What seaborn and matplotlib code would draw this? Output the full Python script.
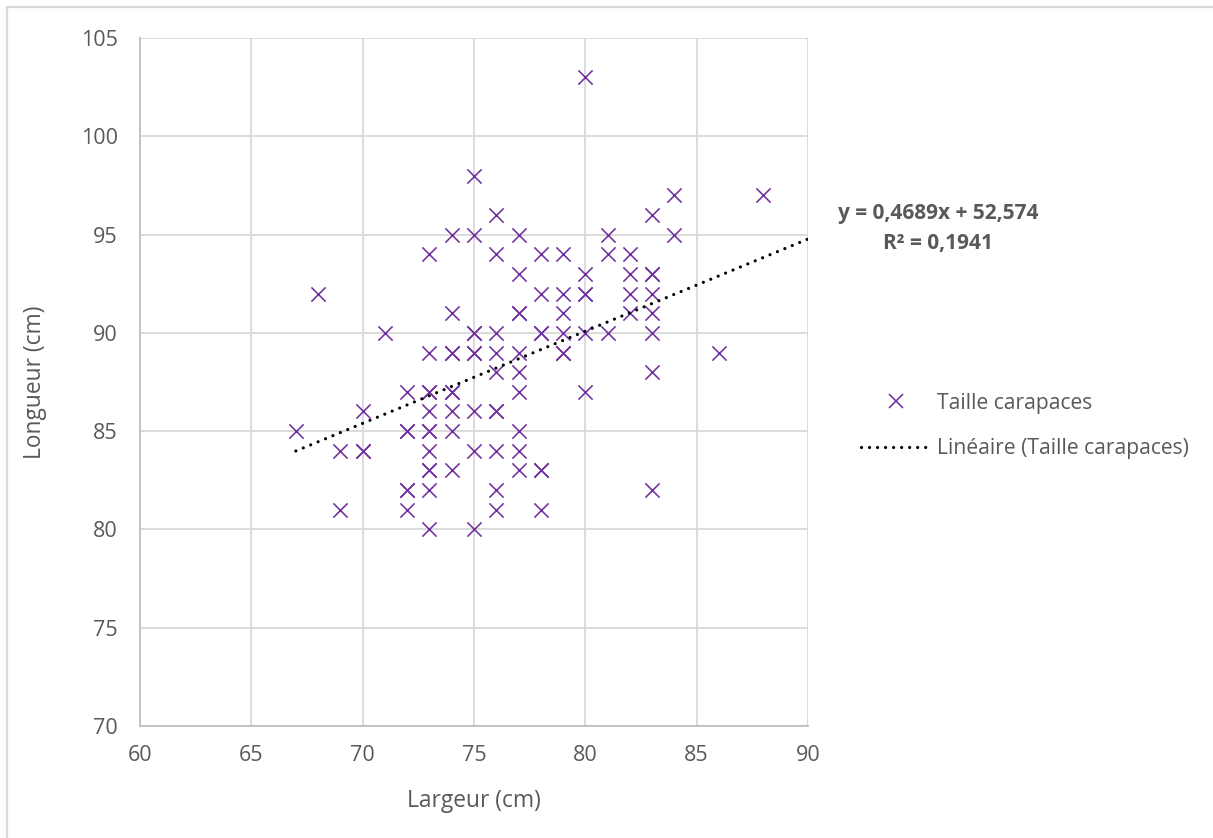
import matplotlib
matplotlib.use("Agg")
import matplotlib.pyplot as plt
from matplotlib.lines import Line2D
import seaborn as sns
import numpy as np
import pandas as pd

# ---------------- data ----------------
largeur = [67, 68, 69, 69, 70, 70, 70, 71,
           72, 72, 72, 72, 72, 72,
           73, 73, 73, 73, 73, 73, 73, 73, 73, 73, 73, 73,
           74, 74, 74, 74, 74, 74, 74, 74, 74,
           75, 75, 75, 75, 75, 75, 75, 75, 75,
           76, 76, 76, 76, 76, 76, 76, 76, 76, 76,
           77, 77, 77, 77, 77, 77, 77, 77, 77, 77,
           78, 78, 78, 78, 78, 78, 78,
           79, 79, 79, 79, 79, 79,
           80, 80, 80, 80, 80, 80,
           81, 81, 81,
           82, 82, 82, 82,
           83, 83, 83, 83, 83, 83, 83, 83,
           84, 84, 86, 88]
longueur = [85, 92, 84, 81, 86, 84, 84, 90,
            87, 85, 85, 82, 82, 81,
            94, 89, 87, 87, 86, 85, 85, 84, 83, 83, 82, 80,
            95, 91, 89, 89, 87, 87, 86, 85, 83,
            98, 95, 90, 90, 89, 89, 86, 84, 80,
            96, 94, 90, 89, 88, 86, 86, 84, 82, 81,
            95, 93, 91, 91, 89, 88, 87, 85, 84, 83,
            94, 92, 90, 90, 83, 83, 81,
            94, 92, 91, 90, 89, 89,
            103, 93, 92, 92, 90, 87,
            95, 94, 90,
            94, 93, 92, 91,
            96, 93, 93, 92, 91, 90, 88, 82,
            97, 95, 89, 97]
pente = 0.4689
ordonnee = 52.574
r2 = 0.1941
x_ticks = [60, 65, 70, 75, 80, 85, 90]
y_ticks = [70, 75, 80, 85, 90, 95, 100, 105]

serie = "Taille carapaces"
tendance = "Linéaire (Taille carapaces)"
titre_x = "Largeur (cm)"
titre_y = "Longueur (cm)"

df = pd.DataFrame({"Largeur": largeur, "Longueur": longueur})

# ---------------- style ----------------
sns.set_theme(style="white")
plt.rcParams["font.family"] = ["Open Sans", "DejaVu Sans"]

W, H = 1213, 838
fig = plt.figure(figsize=(W / 100, H / 100), dpi=100)
ax = fig.add_axes([140 / W, 1 - 726 / H, (808 - 140) / W, (726 - 38) / H])

purple = "#7030A0"
txt = "#595959"
grid = "#d9d9d9"

sns.scatterplot(data=df, x="Largeur", y="Longueur", marker="x", s=105,
                color=purple, linewidth=1.15, ax=ax, legend=False, zorder=3)

# linear trendline (forward forecast to the axis end)
tx = np.array([min(largeur), x_ticks[-1]])
ax.plot(tx, pente * tx + ordonnee, color="black", lw=2.3,
        linestyle=(0, (0.01, 2.5)), dash_capstyle="round", zorder=4)

ax.set_xlim(x_ticks[0], x_ticks[-1])
ax.set_ylim(y_ticks[0], y_ticks[-1])
ax.set_xticks(x_ticks)
ax.set_yticks(y_ticks)
ax.grid(True, color=grid, lw=1.3)
ax.set_axisbelow(True)
for s in ["top", "right"]:
    ax.spines[s].set_visible(False)
for s in ["left", "bottom"]:
    ax.spines[s].set_color("#bfbfbf")
    ax.spines[s].set_linewidth(1.3)
ax.tick_params(axis="both", length=0, labelsize=15.5, labelcolor=txt)
ax.tick_params(axis="y", pad=16)
ax.tick_params(axis="x", pad=14)
ax.set_xlabel(titre_x, fontsize=16.4, color=txt, labelpad=16)
ax.set_ylabel(titre_y, fontsize=16.4, color=txt, labelpad=24)

# equation label
fig.text(938 / W, 1 - 214 / H,
         f"y = {pente:.4f}x + {ordonnee:.3f}".replace(".", ","),
         ha="center", va="center", fontsize=15, fontweight="bold", color=txt)
fig.text(938 / W, 1 - 243 / H, f"R² = {r2:.4f}".replace(".", ","),
         ha="center", va="center", fontsize=15, fontweight="bold", color=txt)

# legend
handles = [
    Line2D([], [], marker="x", linestyle="none", color=purple,
           markersize=10, markeredgewidth=1.15),
    Line2D([], [], color="black", lw=2.3, linestyle=(0, (0.01, 2.5)),
           dash_capstyle="round"),
]
leg = fig.legend(handles, [serie, tendance], loc="center left",
                 bbox_to_anchor=(861 / W, 1 - 426 / H), frameon=False,
                 fontsize=15.2, handlelength=3.3, handletextpad=0.3,
                 labelspacing=1.15, borderpad=0, borderaxespad=0)
for t in leg.get_texts():
    t.set_color(txt)

# chart-area border (left and top visible)
fig.add_artist(Line2D([7 / W, 7 / W], [0, 1 - 7 / H], color=grid, lw=1.6,
                      transform=fig.transFigure))
fig.add_artist(Line2D([7 / W, 1], [1 - 7 / H, 1 - 7 / H], color=grid, lw=1.6,
                      transform=fig.transFigure))

fig.savefig("out.png", dpi=100, facecolor="white")
